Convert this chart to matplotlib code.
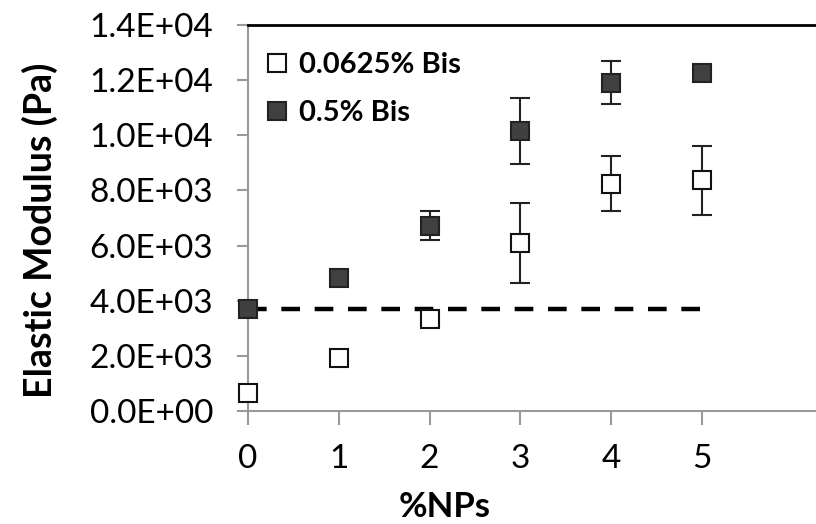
import numpy as np
import matplotlib
matplotlib.use("Agg")
import matplotlib.pyplot as plt

plt.rcParams["font.family"] = ["Lato", "DejaVu Sans"]

# data
nps = [0, 1, 2, 3, 4, 5]
low_bis = [650, 1910, 3325, 6100, 8250, 8370]
low_err = [0, 0, 0, 1450, 1000, 1250]
high_bis = [3700, 4810, 6720, 10150, 11900, 12270]
high_err = [0, 0, 520, 1200, 780, 0]
baseline = 3690
labels = ["0.0625% Bis", "0.5% Bis"]
y_ticks = [0, 2000, 4000, 6000, 8000, 10000, 12000, 14000]

fig = plt.figure(figsize=(8.16, 5.24), dpi=100)
ax = fig.add_axes([248 / 816, 1 - 411 / 524, (822 - 248) / 816, (411 - 25) / 524])

ax.plot([nps[0], nps[-1]], [baseline, baseline], color="black", lw=3.2,
        dashes=(4.2, 3.3), zorder=2, clip_on=False)

ax.errorbar(nps, low_bis, yerr=low_err, fmt="s", ms=13, mfc="white", mec="#111111",
            mew=1.5, ecolor="#222222", elinewidth=1.5, capsize=7, capthick=1.5,
            label=labels[0], zorder=3, clip_on=False)
ax.errorbar(nps, high_bis, yerr=high_err, fmt="s", ms=13, mfc="#404040", mec="#222222",
            mew=1.5, ecolor="#222222", elinewidth=1.5, capsize=7, capthick=1.5,
            label=labels[1], zorder=3, clip_on=False)

ax.set_xlim(0, (822 - 248) / 90.8)
ax.set_ylim(0, 14000)
ax.set_xticks(nps)
ax.set_yticks(y_ticks)
ax.set_yticklabels([f"{v:.1E}" for v in y_ticks])
ax.tick_params(axis="both", colors="#999999", labelcolor="black", labelsize=24,
               length=8, width=1.5, direction="out")
ax.tick_params(axis="x", pad=14, length=10)
ax.tick_params(axis="y", pad=17)

for side in ["left", "bottom"]:
    ax.spines[side].set_color("#999999")
    ax.spines[side].set_linewidth(1.5)
ax.spines["top"].set_color("black")
ax.spines["top"].set_linewidth(2)
ax.spines["right"].set_visible(False)

fig.text(445 / 816, 1 - 507 / 524, "%NPs", fontsize=25, fontweight="bold",
         ha="center", va="center")
fig.text(40 / 816, 1 - 230 / 524, "Elastic Modulus (Pa)", fontsize=27,
         fontweight="bold", rotation=90, ha="center", va="center")

handles, lbls = ax.get_legend_handles_labels()
handles = [h[0] for h in handles]
leg = ax.legend(handles, lbls, loc="upper left", frameon=False,
                prop={"weight": "bold", "size": 21}, handletextpad=0.25,
                handlelength=1.0, labelspacing=0.75, borderaxespad=0.4,
                bbox_to_anchor=(-0.015, 0.99))

fig.savefig("out.png", dpi=100)
